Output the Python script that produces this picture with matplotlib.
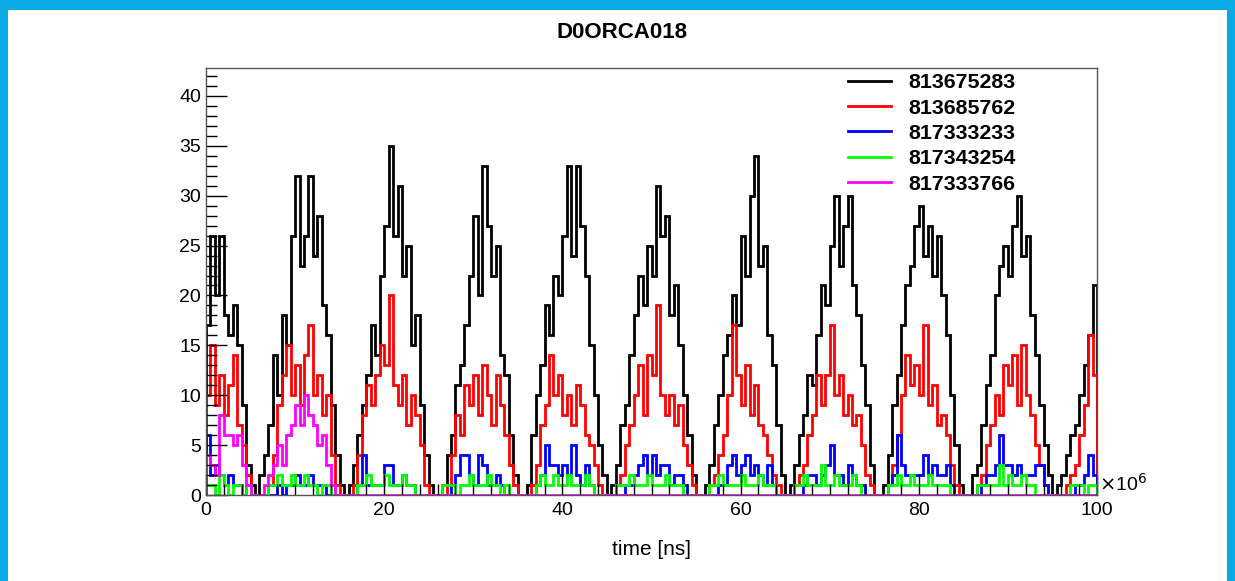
import numpy as np
import matplotlib.pyplot as plt
from matplotlib.patches import Rectangle
from matplotlib.ticker import MultipleLocator

plt.rcParams['font.family'] = ['Liberation Sans', 'DejaVu Sans']

# 200 bins of 0.5e6 ns between 0 and 100e6 ns (x values in units of 1e6)
edges = np.linspace(0, 100, 201)

labels = ["813675283", "813685762", "817333233", "817343254", "817333766"]
colors = ["#000000", "#ff0000", "#0000ff", "#00ff00", "#ff00ff"]

h_black = [
    17, 26, 20, 26, 18, 16, 19, 15, 9, 3, 1, 0, 2, 4, 7, 14, 10, 18, 15, 26,
    32, 23, 26, 32, 24, 28, 19, 16, 9, 4, 1, 0, 1, 3, 6, 9, 12, 17, 14, 22,
    27, 35, 26, 31, 22, 25, 15, 18, 9, 4, 1, 0, 0, 1, 4, 6, 11, 13, 17, 22,
    28, 20, 33, 27, 22, 25, 14, 12, 6, 2, 0, 0, 1, 6, 10, 13, 19, 16, 22, 20,
    26, 33, 24, 33, 27, 22, 15, 10, 5, 2, 0, 1, 3, 7, 9, 14, 18, 22, 19, 25,
    22, 31, 26, 28, 18, 21, 15, 10, 6, 2, 0, 0, 1, 3, 7, 10, 14, 16, 20, 17,
    26, 22, 30, 34, 23, 25, 16, 13, 7, 2, 0, 1, 3, 6, 8, 12, 11, 16, 21, 19,
    25, 30, 23, 27, 30, 21, 18, 13, 9, 3, 0, 0, 1, 4, 9, 12, 17, 21, 23, 27,
    29, 24, 27, 22, 26, 20, 16, 10, 5, 1, 0, 0, 2, 3, 7, 11, 14, 20, 23, 25,
    22, 27, 30, 24, 26, 18, 14, 9, 5, 2, 0, 1, 2, 4, 6, 7, 10, 13, 16, 21,
]
h_red = [
    10, 15, 9, 12, 8, 11, 14, 7, 5, 2, 0, 0, 0, 0, 1, 4, 9, 12, 15, 10,
    13, 9, 14, 17, 10, 12, 8, 10, 4, 1, 0, 0, 0, 1, 4, 8, 11, 9, 12, 15,
    13, 20, 11, 9, 12, 7, 10, 8, 5, 1, 0, 0, 0, 0, 1, 4, 8, 6, 11, 9,
    12, 8, 13, 10, 7, 12, 9, 6, 3, 1, 0, 0, 0, 1, 3, 7, 9, 14, 10, 12,
    8, 10, 7, 11, 9, 6, 5, 3, 1, 0, 0, 0, 1, 2, 5, 7, 10, 13, 8, 14,
    12, 19, 10, 8, 10, 7, 9, 5, 3, 1, 0, 0, 0, 1, 2, 4, 6, 10, 17, 12,
    9, 13, 8, 11, 7, 6, 4, 2, 1, 0, 0, 0, 1, 2, 3, 6, 8, 12, 9, 12,
    17, 10, 12, 8, 10, 7, 8, 5, 2, 1, 0, 0, 0, 1, 3, 6, 10, 14, 11, 13,
    10, 17, 9, 11, 7, 8, 6, 3, 1, 0, 0, 0, 0, 1, 2, 5, 7, 10, 8, 13,
    11, 14, 9, 15, 10, 8, 5, 3, 1, 0, 0, 0, 0, 1, 2, 3, 6, 9, 16, 12,
]
h_blue = [
    6, 2, 3, 2, 1, 2, 1, 1, 0, 1, 0, 0, 0, 0, 0, 0, 1, 0, 1, 1,
    2, 1, 1, 2, 1, 1, 1, 0, 0, 0, 0, 0, 0, 0, 1, 4, 1, 1, 1, 1,
    3, 3, 1, 1, 2, 1, 1, 0, 0, 0, 0, 0, 0, 0, 0, 1, 2, 4, 4, 2,
    1, 4, 3, 1, 1, 2, 1, 0, 0, 0, 0, 0, 0, 0, 1, 2, 5, 3, 3, 2,
    3, 2, 5, 2, 1, 3, 1, 0, 0, 0, 0, 0, 0, 0, 1, 1, 2, 3, 4, 2,
    4, 2, 3, 3, 1, 2, 2, 1, 0, 0, 0, 0, 0, 0, 0, 1, 1, 3, 4, 2,
    3, 4, 2, 3, 2, 1, 3, 1, 0, 0, 0, 0, 0, 0, 1, 2, 2, 1, 2, 3,
    5, 2, 2, 1, 3, 2, 1, 1, 0, 0, 0, 0, 0, 1, 2, 6, 3, 2, 2, 2,
    2, 4, 2, 3, 2, 2, 3, 1, 0, 0, 0, 0, 0, 0, 1, 2, 2, 3, 6, 3,
    3, 2, 3, 2, 2, 2, 3, 3, 1, 0, 0, 0, 0, 0, 0, 1, 1, 2, 4, 2,
]
h_green = [
    1, 1, 0, 2, 1, 0, 1, 1, 0, 1, 0, 0, 0, 0, 1, 1, 2, 1, 1, 2,
    1, 1, 2, 1, 1, 0, 1, 1, 0, 0, 0, 0, 0, 0, 1, 1, 2, 1, 1, 1,
    2, 1, 1, 1, 2, 1, 1, 0, 0, 0, 0, 0, 0, 1, 1, 1, 0, 1, 1, 2,
    1, 1, 1, 2, 1, 1, 0, 1, 0, 0, 0, 0, 0, 0, 1, 2, 1, 1, 2, 1,
    1, 2, 1, 1, 1, 2, 1, 0, 0, 0, 0, 0, 1, 1, 1, 2, 1, 1, 1, 2,
    1, 1, 1, 2, 1, 1, 1, 0, 0, 0, 0, 0, 0, 1, 1, 2, 1, 1, 1, 1,
    2, 1, 1, 1, 2, 1, 1, 1, 0, 0, 0, 0, 1, 1, 2, 1, 1, 1, 3, 1,
    1, 2, 1, 1, 1, 2, 1, 0, 0, 0, 0, 0, 0, 1, 1, 2, 1, 1, 2, 1,
    1, 1, 2, 1, 1, 1, 1, 0, 0, 0, 0, 0, 0, 1, 1, 1, 1, 1, 3, 1,
    2, 1, 1, 2, 1, 1, 0, 0, 0, 0, 0, 0, 0, 0, 1, 1, 1, 0, 1, 1,
]
h_magenta = [
    4, 3, 2, 8, 6, 6, 5, 6, 3, 1, 0, 0, 0, 1, 2, 3, 5, 3, 6, 7,
    9, 7, 10, 8, 7, 5, 6, 3, 1, 0, 0, 0, 0, 0, 0, 0, 0, 0, 0, 0,
] + [0] * 160

series = [h_black, h_red, h_blue, h_green, h_magenta]

fig = plt.figure(figsize=(12.35, 5.81), dpi=100)
fig.patch.set_facecolor("#0aaae6")
fig.patches.append(Rectangle((8 / 1235, 0), 1219 / 1235, 571 / 581,
                             transform=fig.transFigure, facecolor="white",
                             edgecolor="none", zorder=-1))

ax = fig.add_axes([206 / 1235, 86 / 581, 891 / 1235, 427 / 581])
ax.set_zorder(1)
for vals, col, lab in zip(series, colors, labels):
    ax.stairs(vals, edges, color=col, linewidth=2.0, label=lab)

ax.set_xlim(0, 100)
ax.set_ylim(0, 42.8)
ax.xaxis.set_major_locator(MultipleLocator(20))
ax.xaxis.set_minor_locator(MultipleLocator(2))
ax.yaxis.set_major_locator(MultipleLocator(5))
ax.yaxis.set_minor_locator(MultipleLocator(1))
ax.tick_params(which="both", direction="in", labelsize=14, top=False, right=False)
ax.tick_params(which="major", length=15, width=1)
ax.tick_params(which="minor", length=8, width=1)
ax.tick_params(axis="x", pad=5)
for sp in ax.spines.values():
    sp.set_linewidth(1)
    sp.set_color("#555555")

ax.set_xlabel("time [ns]", fontsize=15, labelpad=15)
ax.text(1.002, 0.0, r"$\times$10$^{6}$", transform=ax.transAxes, fontsize=14,
        ha="left", va="bottom")
fig.text(622 / 1235, 1 - 33 / 581, "D0ORCA018", ha="center", va="center",
         fontsize=16, fontweight="bold")

leg = ax.legend(loc="upper left", bbox_to_anchor=(0.7205, 0.988), frameon=False,
                prop={"size": 15.4, "weight": "bold"}, handlelength=2.0,
                handletextpad=0.84, labelspacing=0.3, borderaxespad=0,
                borderpad=0)

fig.savefig("out.png", dpi=100, facecolor=fig.get_facecolor())
